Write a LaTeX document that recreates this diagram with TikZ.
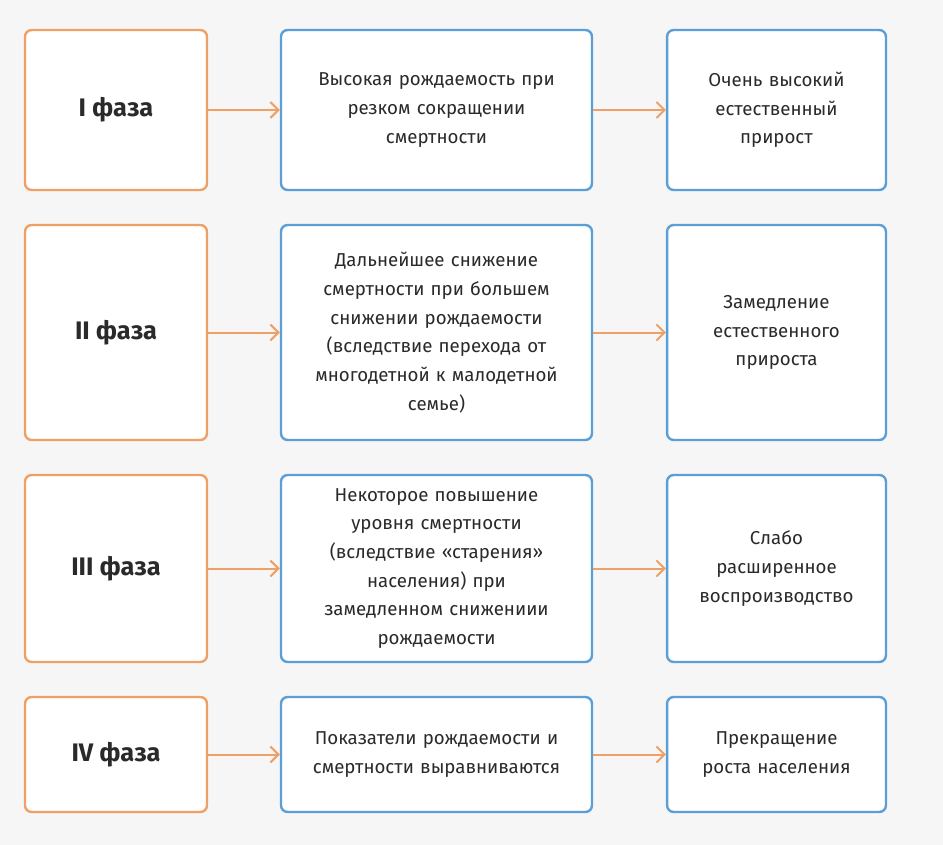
\documentclass[tikz,border=0pt]{standalone}
\usepackage{fontspec}
\setmainfont{Fira Sans}
\usetikzlibrary{arrows.meta}
\definecolor{org}{HTML}{EFA066}
\definecolor{blu}{HTML}{5C9FD6}
\definecolor{bg}{HTML}{F6F6F6}
\definecolor{txt}{HTML}{2A2A2A}
\begin{document}
\begin{tikzpicture}[x=0.75pt,y=-0.75pt,
 ph/.style={draw=org,line width=1.8pt,rounded corners=5pt,fill=white,minimum width=182*0.75pt,font=\bfseries\fontsize{19}{22}\selectfont,text=txt},
 mid/.style={draw=blu,line width=1.8pt,rounded corners=5pt,fill=white,minimum width=311*0.75pt,text width=300*0.75pt,align=center,font=\fontsize{14}{21.5}\selectfont,text=txt},
 res/.style={draw=blu,line width=1.8pt,rounded corners=5pt,fill=white,minimum width=217*0.75pt,text width=210*0.75pt,align=center,font=\fontsize{14}{21.5}\selectfont,text=txt},
 ar/.style={draw=org,line width=1.5pt,-{Straight Barb[length=6pt,width=12pt]}}]
\fill[bg] (0,0) rectangle (943,845);
\foreach \n/\ya/\yb/\ph/\m/\r in {
 1/30/190/{I фаза}/{Высокая рождаемость при\\резком сокращении\\смертности}/{Очень высокий\\естественный\\прирост},
 2/225/440/{II фаза}/{Дальнейшее снижение\\смертности при большем\\снижении рождаемости\\(вследствие перехода от\\многодетной к малодетной\\семье)}/{Замедление\\естественного\\прироста},
 3/475/662/{III фаза}/{Некоторое повышение\\уровня смертности\\(вследствие «старения»\\населения) при\\замедленном снижениии\\рождаемости}/{Слабо\\расширенное\\воспроизводство},
 4/697/812/{IV фаза}/{Показатели рождаемости и\\смертности выравниваются}/{Прекращение\\роста населения}}{
 \pgfmathsetmacro\h{(\yb-\ya)*0.75}
 \pgfmathsetmacro\c{(\ya+\yb)/2}
 \node[ph,minimum height=\h pt] (p\n) at (116,\c) {\ph};
 \node[mid,minimum height=\h pt] (m\n) at (436.5,\c) {\m};
 \node[res,minimum height=\h pt] (r\n) at (776.5,\c) {\r};
 \draw[ar] (p\n) -- (m\n);
 \draw[ar] (m\n) -- (r\n);
}
\end{tikzpicture}
\end{document}
